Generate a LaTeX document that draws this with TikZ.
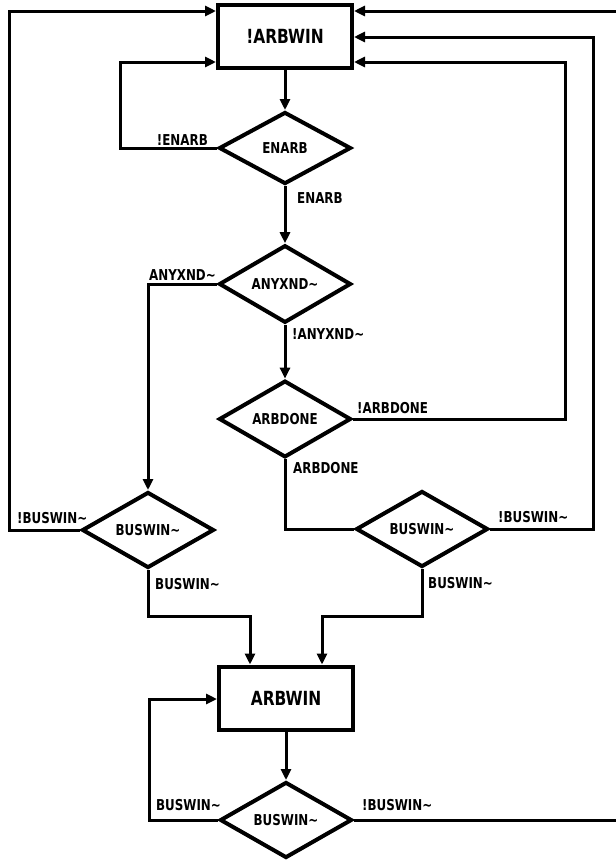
\documentclass[tikz,border=0pt]{standalone}
\usepackage{fontspec}
\setsansfont{DejaVu Sans Condensed}[FakeStretch=0.88]
\usetikzlibrary{shapes.geometric,arrows.meta}
\newcommand{\tildech}{\textasciitilde{}}
\begin{document}
\begin{tikzpicture}[x=1pt,y=-1pt,
  box/.style={draw, line width=4pt, minimum width=134pt, minimum height=63pt, inner sep=0pt,
    font=\sffamily\bfseries\fontsize{19.5}{20}\selectfont},
  dia/.style={draw, diamond, line width=4pt, minimum width=132pt, minimum height=72pt, inner sep=0pt,
    font=\sffamily\bfseries\fontsize{15}{16}\selectfont},
  lbl/.style={inner sep=0pt, font=\sffamily\bfseries\fontsize{15}{16}\selectfont},
  conn/.style={line width=3pt},
  arr/.style={line width=3pt, -{Triangle[length=11pt,width=10pt]}}]
\useasboundingbox (0,0) rectangle (616,860);

% nodes
\node[box] (top) at (285,36) {!ARBWIN};
\node[dia] (enarb) at (285,148) {ENARB};
\node[dia] (anyx) at (285,284) {ANYXND\tildech};
\node[dia] (arbd) at (285,419) {ARBDONE};
\node[dia] (bl) at (148,530) {BUSWIN\tildech};
\node[dia] (br) at (422,529) {BUSWIN\tildech};
\node[box] (arbwin) at (286,698) {ARBWIN};
\node[dia] (bot) at (286,820) {BUSWIN\tildech};

% helper coordinates
\coordinate (cEn) at (120,62);
\coordinate (cArb) at (565,62);
\coordinate (cBr) at (593,37);
\coordinate (cBl) at (9,11);
\coordinate (cEdgeTop) at (616,11);
\coordinate (cEdgeBot) at (616,820);
\coordinate (cL) at (250,616);
\coordinate (cR) at (322,616);
\coordinate (cBot) at (149,699);

% connectors
\draw[arr] (top.south) -- (enarb.north);
\draw[arr] (enarb.west) -| (cEn) -- (cEn -| top.west);
\draw[arr] (enarb.south) -- (anyx.north);
\draw[arr] (anyx.west) -| (bl.north);
\draw[arr] (anyx.south) -- (arbd.north);
\draw[arr] (arbd.east) -| (cArb) -- (cArb -| top.east);
\draw[conn] (arbd.south) |- (br.west);
\draw[arr] (br.east) -| (cBr) -- (cBr -| top.east);
\draw[arr] (bl.west) -| (cBl) -- (cBl -| top.west);
\draw[arr] (cEdgeTop) -- (cEdgeTop -| top.east);
\draw[arr] (bl.south) |- (cL) -- (cL |- arbwin.north);
\draw[arr] (br.south) |- (cR) -- (cR |- arbwin.north);
\draw[arr] (arbwin.south) -- (bot.north);
\draw[arr] (bot.west) -| (cBot) -- (cBot -| arbwin.west);
\draw[conn] (bot.east) -- (cEdgeBot);

% labels
\node[lbl, anchor=east] (l1) at (208,140) {!ENARB};
\node[lbl, anchor=west] (l2) at (297,198) {ENARB};
\node[lbl, anchor=east] (l3) at (216,275) {ANYXND\tildech};
\node[lbl, anchor=west] (l4) at (292,334) {!ANYXND\tildech};
\node[lbl, anchor=west] (l5) at (357,408) {!ARBDONE};
\node[lbl, anchor=west] (l6) at (293,468) {ARBDONE};
\node[lbl, anchor=west] (l7) at (17,518) {!BUSWIN\tildech};
\node[lbl, anchor=west] (l8) at (155,584) {BUSWIN\tildech};
\node[lbl, anchor=west] (l9) at (498,517) {!BUSWIN\tildech};
\node[lbl, anchor=west] (l10) at (428,583) {BUSWIN\tildech};
\node[lbl, anchor=east] (l11) at (221,805) {BUSWIN\tildech};
\node[lbl, anchor=west] (l12) at (362,805) {!BUSWIN\tildech};
\end{tikzpicture}
\end{document}
